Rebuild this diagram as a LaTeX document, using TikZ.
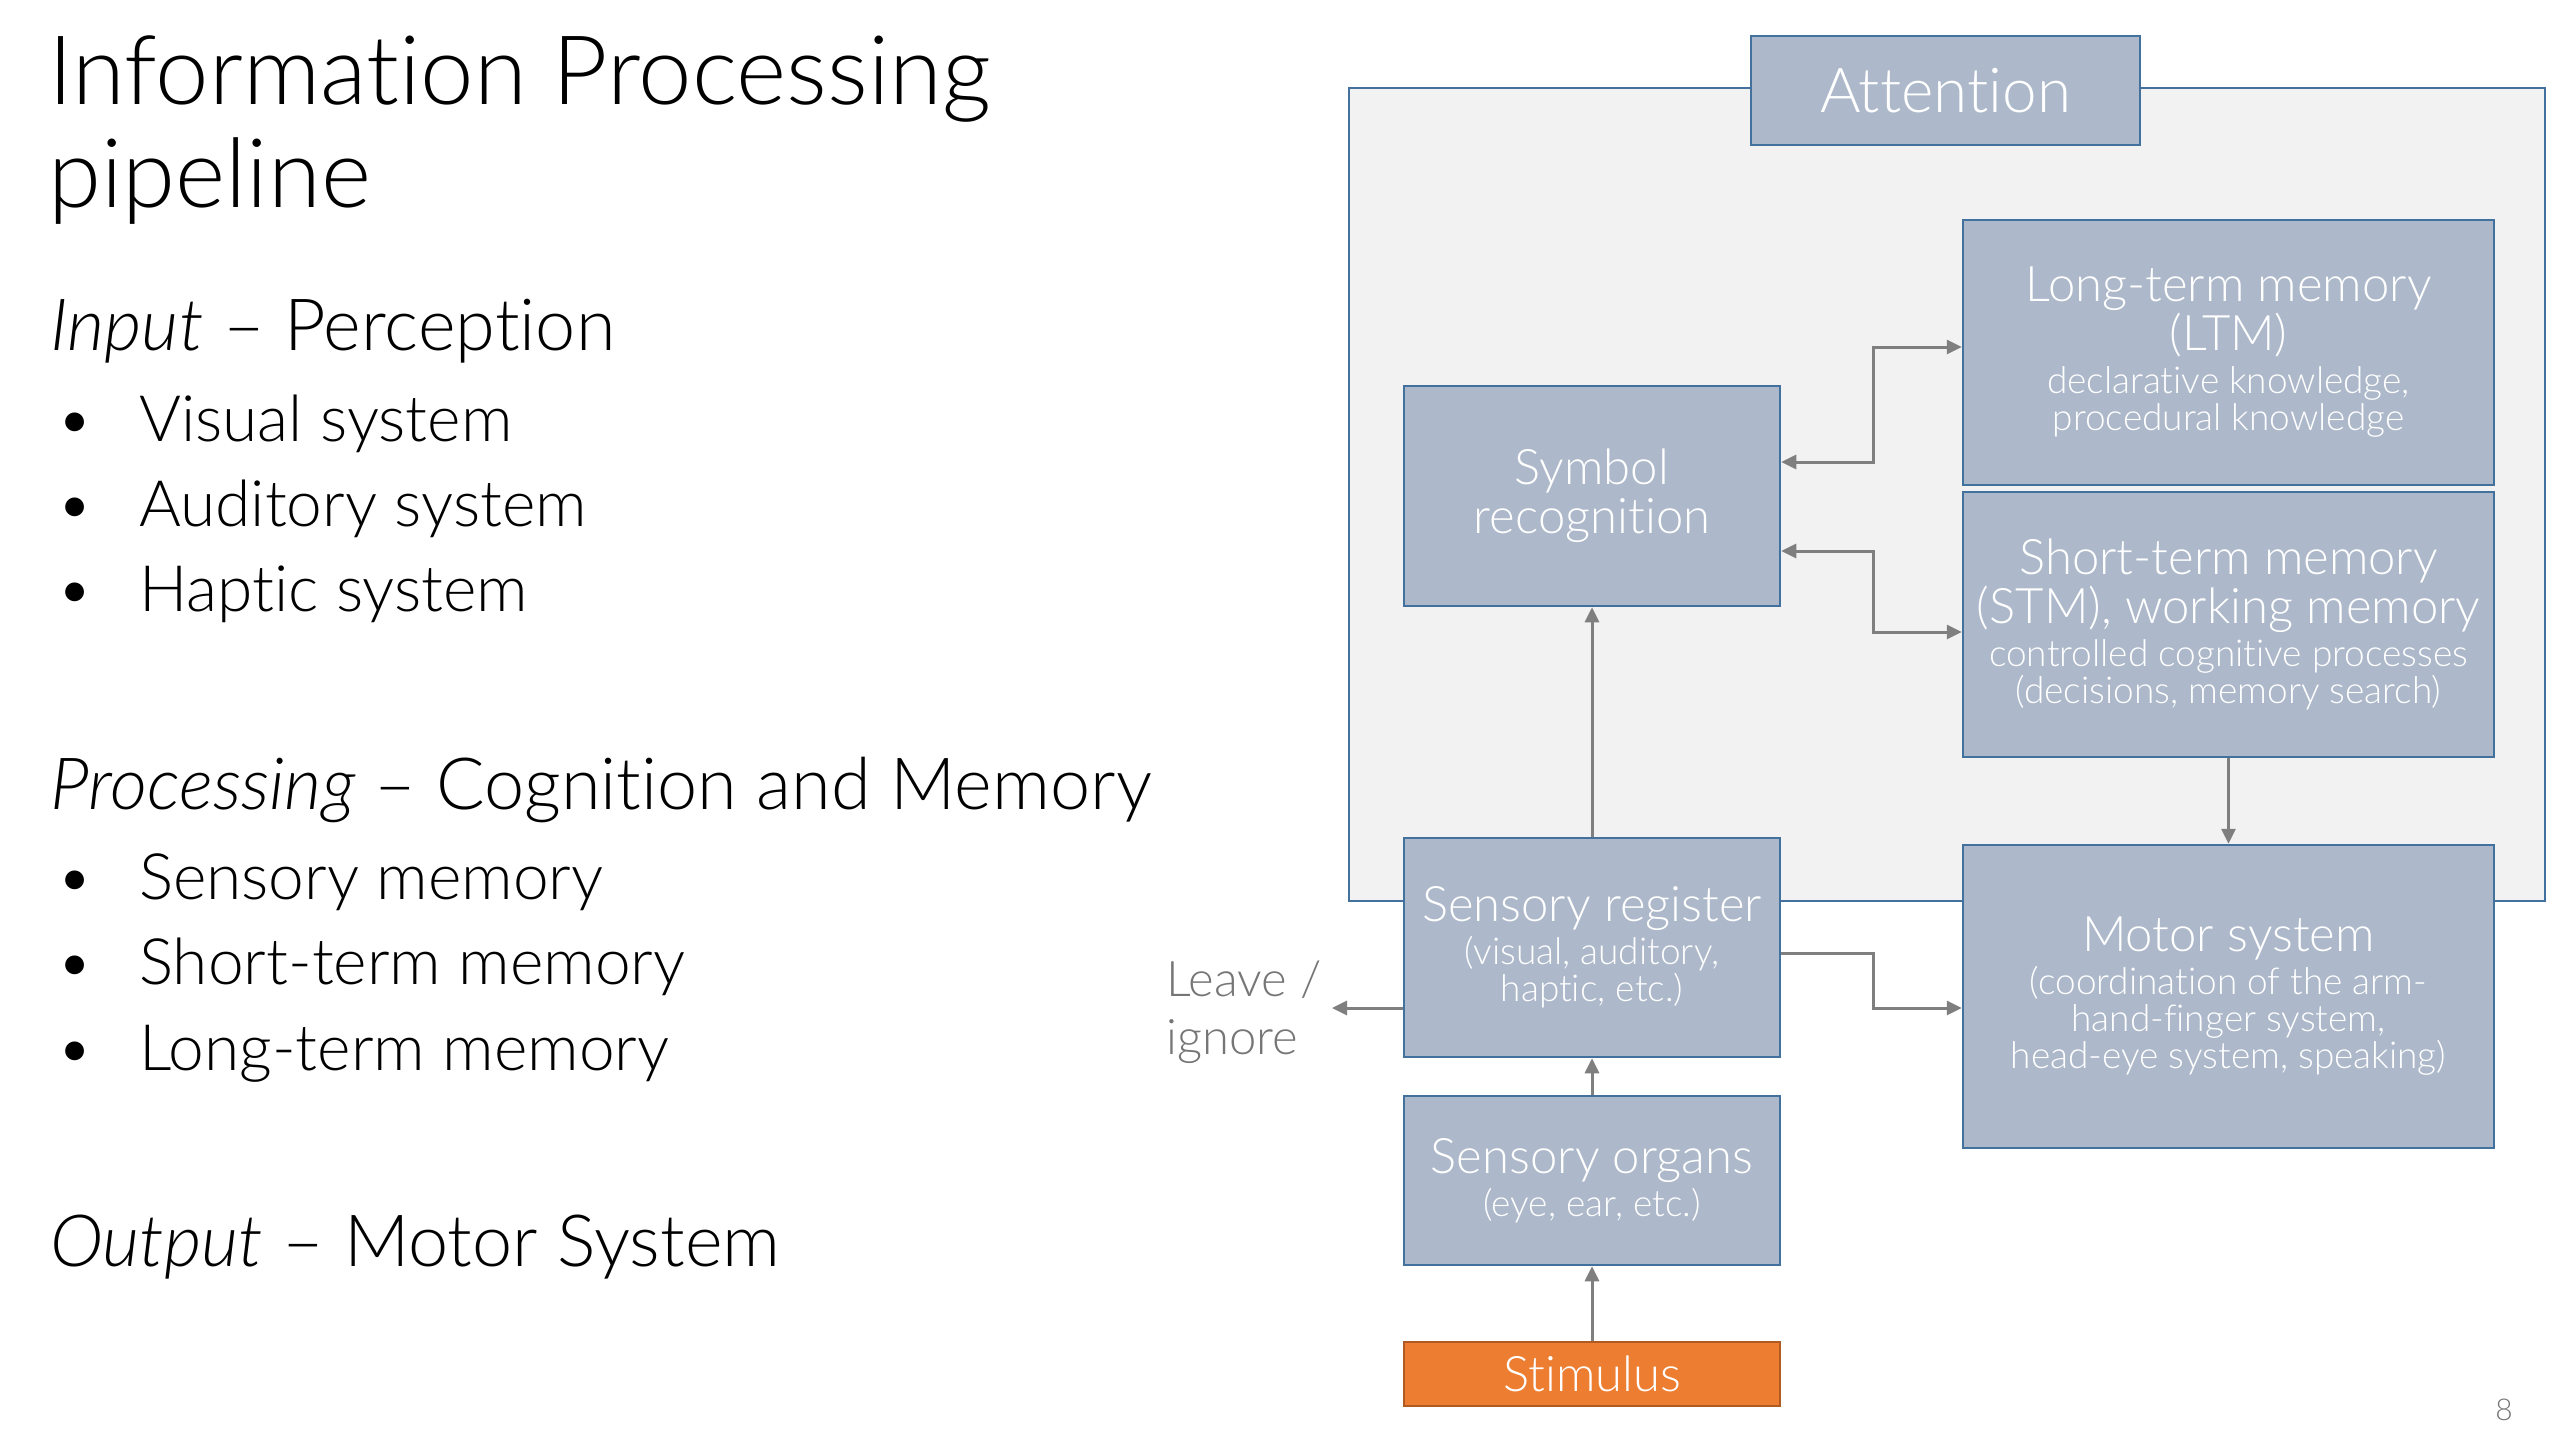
\documentclass[tikz,border=0pt]{standalone}
\usepackage{fontspec}
\IfFontExistsTF{Lato Light}{%
  \IfFontExistsTF{Lato Light Italic}
    {\setmainfont{Lato Light}[Ligatures={TeX,NoCommon},ItalicFont={Lato Light Italic}]}
    {\setmainfont{Lato Light}[Ligatures={TeX,NoCommon}]}}
  {\setmainfont{Lato}[Ligatures={TeX,NoCommon}]}
\usetikzlibrary{arrows.meta,positioning,calc}

\definecolor{boxfill}{HTML}{ADB9CA}
\definecolor{boxline}{HTML}{41719C}
\definecolor{areafill}{HTML}{F2F2F2}
\definecolor{stimfill}{HTML}{ED7D31}
\definecolor{stimline}{HTML}{AE5A21}
\definecolor{arrgray}{HTML}{7F7F7F}
\definecolor{txtgray}{HTML}{767676}

\newcommand{\ttlfont}{\fontsize{96}{100}\selectfont}
\newcommand{\hdfont}{\fontsize{72}{76}\selectfont}
\newcommand{\itmfont}{\fontsize{64}{70}\selectfont}
\newcommand{\attfont}{\fontsize{62}{64}\selectfont}
\newcommand{\bxfont}{\fontsize{49}{49}\selectfont}
\newcommand{\bxsub}{\fontsize{37}{37}\selectfont}

\tikzset{
  blk/.style={draw=boxline, line width=2.5pt, fill=boxfill, text=white,
    align=center, inner sep=0pt, font=\bxfont},
  arr/.style={draw=arrgray, line width=3pt, -{Triangle[length=15pt,width=14pt]}},
  hd/.style={anchor=base west, inner sep=0pt, font=\hdfont},
  itm/.style={anchor=base west, inner sep=0pt, font=\itmfont},
}

\begin{document}
\begin{tikzpicture}[x=1pt,y=-1pt]
  \useasboundingbox[fill=white] (0,0) rectangle (2572,1438);
  % Left column
  \node[anchor=base west, inner sep=0pt, font=\ttlfont] (ttl1) at (48,104) {Information Processing};
  \node[anchor=base west, inner sep=0pt, font=\ttlfont] (ttl2) at (48,207) {pipeline};
  \node[hd] (inp) at (50,350) {\textit{Input} – Perception};
  \foreach \txt/\yy [count=\i] in {Visual system/441, Auditory system/526, Haptic system/611} {
    \node[itm] (ib\i) at (56,\yy) {\textbullet};
    \node[itm] (it\i) at (139,\yy) {\txt};
  }
  \node[hd] (proc) at (50,809) {\textit{Processing} – Cognition and Memory};
  \foreach \txt/\yy [count=\i] in {Sensory memory/899, Short-term memory/984, Long-term memory/1070} {
    \node[itm] (pb\i) at (56,\yy) {\textbullet};
    \node[itm] (pt\i) at (139,\yy) {\txt};
  }
  \node[hd] (outp) at (50,1266) {\textit{Output} – Motor System};

  % Attention area
  \node[draw=boxline, line width=2.5pt, fill=areafill, minimum width=1196pt,
    minimum height=813pt, inner sep=0pt] (area) at (1947,494.5) {};
  \node[blk, font=\attfont, minimum width=389pt, minimum height=109pt] (att) at (1945.5,90.5) {Attention};

  % Boxes
  \node[blk, minimum width=531pt, minimum height=265pt] (ltm) at (2228.5,352.5)
    {Long-term memory\\(LTM)\\[-6pt]\bxsub declarative knowledge,\\[-12pt]\bxsub procedural knowledge};
  \node[blk, minimum width=531pt, minimum height=265pt] (stm) at (2228.5,624.5)
    {Short-term memory\\(STM), working memory\\[-6pt]\bxsub controlled cognitive processes\\[-12pt]\bxsub (decisions, memory search)};
  \node[blk, minimum width=376pt, minimum height=220pt] (sym) at (1592,496) {Symbol\\recognition};
  \node[blk, minimum width=376pt, minimum height=219pt] (sr) at (1592,947.5)
    {Sensory register\\[-6pt]\bxsub (visual, auditory,\\[-12pt]\bxsub haptic, etc.)};
  \node[blk, minimum width=531pt, minimum height=303pt] (mot) at (2228.5,996.5)
    {Motor system\\[-6pt]\bxsub (coordination of the arm-\\[-12pt]\bxsub hand-finger system,\\[-12pt]\bxsub head-eye system, speaking)};
  \node[blk, minimum width=376pt, minimum height=169pt] (org) at (1592,1180.5)
    {Sensory organs\\[-6pt]\bxsub (eye, ear, etc.)};
  \node[blk, draw=stimline, fill=stimfill, minimum width=376pt, minimum height=64pt] (stim) at (1592,1374) {Stimulus};

  % Leave / ignore
  \coordinate (lv) at (1332,1008);
  \node[anchor=west, align=left, inner sep=0pt, text=txtgray,
    font=\fontsize{49}{58}\selectfont] (leave) at (1166,1012) {Leave /\\ignore};

  % Arrows
  \draw[arr, {Triangle[length=15pt,width=14pt]}-{Triangle[length=15pt,width=14pt]}]
    ([yshift=34pt]sym.east) -- ++(92,0) |- ([yshift=5.5pt]ltm.west);
  \draw[arr, {Triangle[length=15pt,width=14pt]}-{Triangle[length=15pt,width=14pt]}]
    ([yshift=-55pt]sym.east) -- ++(92,0) |- ([yshift=-7.5pt]stm.west);
  \draw[arr] ([yshift=-5.5pt]sr.east) -- ++(92,0) |- ([yshift=-11.5pt]mot.west);
  \draw[arr] (sr.west |- lv) -- (lv);
  \draw[arr] (sr.north) -- (sym.south);
  \draw[arr] (stm.south) -- (mot.north);
  \draw[arr] (org.north) -- (sr.south);
  \draw[arr] (stim.north) -- (org.south);

  % Page number
  \node[font=\fontsize{30}{32}\selectfont, text=txtgray, inner sep=0pt] (pg) at (2504,1410) {8};
\end{tikzpicture}
\end{document}
